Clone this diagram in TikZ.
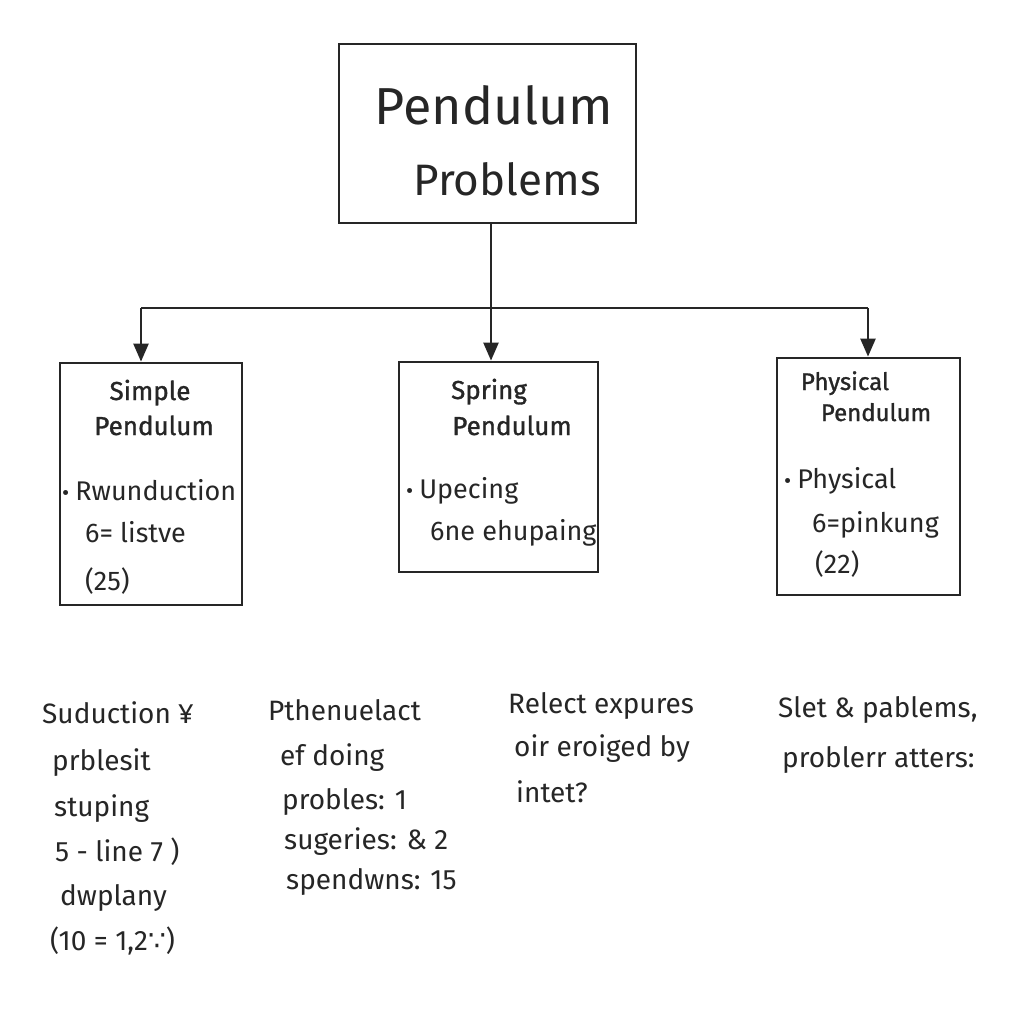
\documentclass[tikz,border=0pt]{standalone}
\usepackage{fontspec}
\setmainfont{Fira Sans}
\newfontfamily\symfont{DejaVu Sans}
\newfontfamily\headfont[FakeBold=1.2]{Fira Sans}
\usetikzlibrary{arrows.meta}
\tikzset{
  box/.style={draw=black!85, line width=2.8pt, fill=white, inner sep=0pt},
  conn/.style={draw=black!85, line width=2.4pt},
  arr/.style={conn, -{Triangle[length=18pt,width=15pt]}},
  txt/.style={anchor=base west, inner sep=0pt, text=black!85},
  head/.style={txt, anchor=base, font=\headfont\fontsize{26}{30}\selectfont},
  body/.style={txt, font=\fontsize{27}{30}\selectfont},
  note/.style={txt, font=\fontsize{28}{32}\selectfont},
}
\newcommand{\bul}{{\fontsize{22}{22}\selectfont •}\hspace{6pt}}
\begin{document}
\begin{tikzpicture}[x=1pt,y=-1pt]
\useasboundingbox[fill=white] (0,0) rectangle (1024,1024);
% boxes
\node[box, minimum width=297pt, minimum height=179pt] (top) at (487.5,133.5) {};
\node[box, minimum width=182pt, minimum height=242pt] (left) at (151,484) {};
\node[box, minimum width=199pt, minimum height=210pt] (mid) at (498.5,467) {};
\node[box, minimum width=183pt, minimum height=237pt] (right) at (868.5,476.5) {};
% top text
\node[txt, anchor=base, font=\fontsize{52}{56}\selectfont] (t1) at (494,125) {Pendulum};
\node[txt, anchor=base, font=\fontsize{44}{48}\selectfont] (t2) at (507,196) {Problems};
% connectors
\coordinate (j) at (491,308);
\coordinate (jl) at (141,308);
\coordinate (jr) at (868,308);
\draw[conn] (j |- top.south) -- (j);
\draw[conn] (jl) -- (jr);
\draw[arr] (jl) -- (jl |- left.north);
\draw[arr] (j) -- (j |- mid.north);
\draw[arr] (jr) -- (jr |- right.north);
% left box text
\node[head] (l1) at (150,400) {Simple};
\node[head] (l2) at (154,435) {Pendulum};
\node[body] (l3) at (62,500) {\bul Rwunduction};
\node[body] (l4) at (85,542) {6= listve};
\node[body] (l5) at (85,590) {(25)};
% middle box text
\node[head] (m1) at (489,399) {Spring};
\node[head] (m2) at (512,435) {Pendulum};
\node[body] (m3) at (406,498) {\bul Upecing};
\node[body] (m4) at (430,540) {6ne ehupaing};
% right box text
\node[head, font=\headfont\fontsize{24}{28}\selectfont] (r1) at (845,390) {Physical};
\node[head, font=\headfont\fontsize{24}{28}\selectfont] (r2) at (876,421) {Pendulum};
\node[body] (r3) at (784,488) {\bul Physical};
\node[body] (r4) at (812,532) {6=pinkung};
\node[body] (r5) at (815,573) {(22)};
% bottom notes column 1
\node[note] (a1) at (42,723) {Suduction ¥};
\node[note] (a2) at (52,770) {prblesit};
\node[note] (a3) at (54,816) {stuping};
\node[note] (a4) at (55,861) {5 - line 7 )};
\node[note] (a5) at (60,905) {dwplany};
\node[note] (a6) at (50,950) {(10 = 1,2{\symfont ∵})};
% column 2
\node[note] (b1) at (268,720) {Pthenuelact};
\node[note] (b2) at (280,765) {ef doing};
\node[note] (b3) at (282,809) {probles: 1};
\node[note] (b4) at (284,849) {sugeries: \& 2};
\node[note] (b5) at (286,889) {spendwns: 15};
% column 3
\node[note] (c1) at (508,713) {Relect expures};
\node[note] (c2) at (514,756) {oir eroiged by};
\node[note] (c3) at (516,802) {intet?};
% column 4
\node[note] (d1) at (778,717) {Slet \& pablems,};
\node[note] (d2) at (782,767) {problerr atters:};
\end{tikzpicture}
\end{document}
